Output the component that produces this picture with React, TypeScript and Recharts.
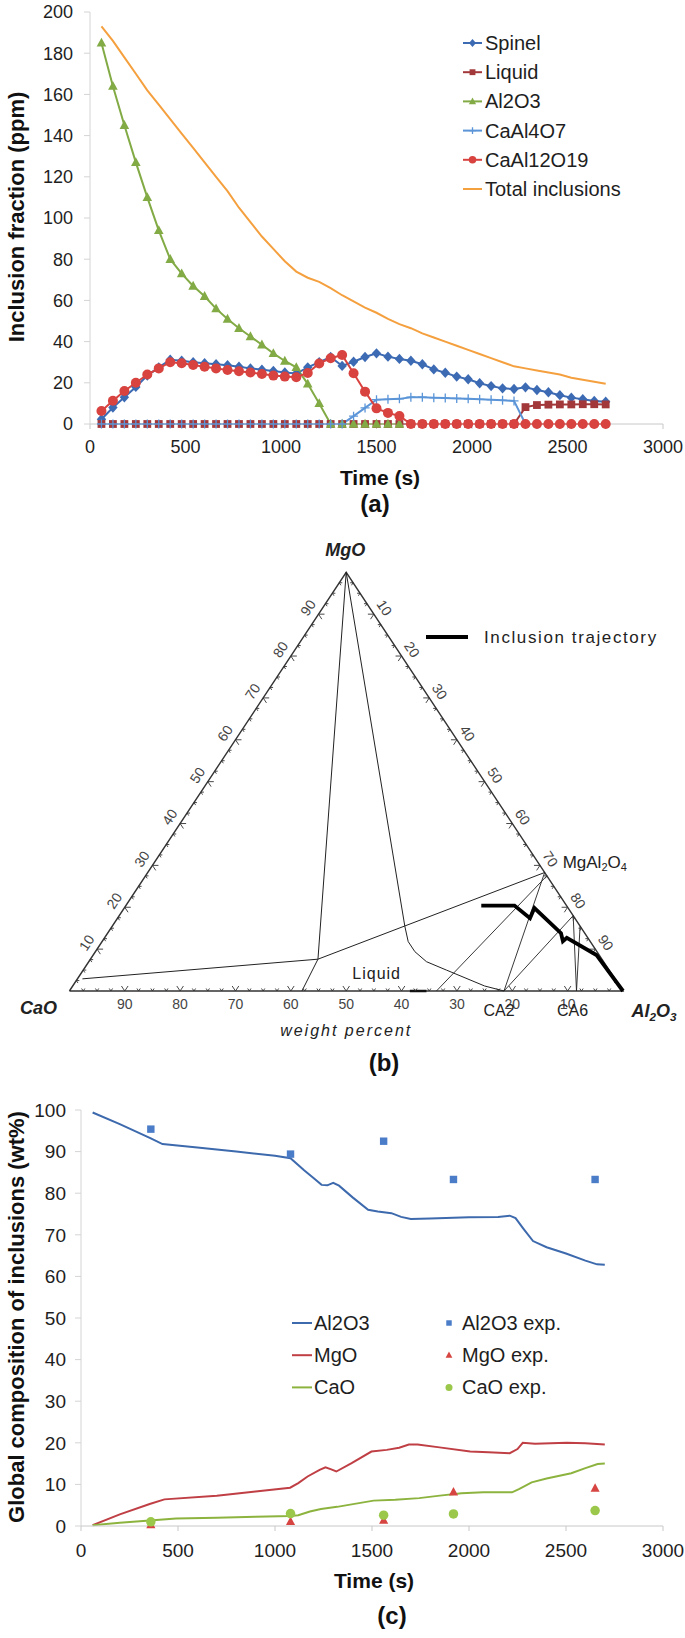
import React from 'react';
import { LineChart, Line, XAxis, YAxis, ScatterChart, Scatter, ComposedChart } from 'recharts';

const FONT = '"Liberation Sans", Arial, Helvetica, sans-serif';
const INK = '#1e1e1e';

// ---------- (a) inclusion fractions (ppm), one point per minute ----------
const timeA = [
  60, 120, 180, 240, 300, 360, 420, 480, 540, 600,
  660, 720, 780, 840, 900, 960, 1020, 1080, 1140, 1200,
  1260, 1320, 1380, 1440, 1500, 1560, 1620, 1680, 1740, 1800,
  1860, 1920, 1980, 2040, 2100, 2160, 2220, 2280, 2340, 2400,
  2460, 2520, 2580, 2640, 2700,
];
const spinelA = [
  2.3, 8, 13, 18, 23.5, 27.5, 31.2, 30.7, 30, 29.5,
  29, 28.5, 27.8, 27, 26.3, 25.7, 25, 24.5, 27.5, 30,
  32.5, 28.2, 30.2, 32.5, 34.3, 32.7, 31.6, 30.7, 29, 26.5,
  24.9, 23, 21.7, 19.8, 18.4, 17.3, 17, 17.8, 16.5, 15.4,
  14, 12.8, 12, 11.2, 10.8,
];
const liquidA = [
  0, 0, 0, 0, 0, 0, 0, 0, 0, 0,
  0, 0, 0, 0, 0, 0, 0, 0, 0, 0,
  0, 0, 0, 0, 0, 0, 0, 0, 0, 0,
  0, 0, 0, 0, 0, 0, 0, 8.2, 9.2, 9.4,
  9.5, 9.5, 9.6, 9.6, 9.5,
];
const al2o3A = [
  185, 164, 145, 127, 110, 94, 80, 73, 67, 62,
  56, 51, 46.5, 42.5, 38.5, 34.3, 30.6, 27.5, 19.5, 10,
  0, 0, 0, 0, 0, 0, 0, null, null, null,
  null, null, null, null, null, null, null, null, null, null,
  null, null, null, null, null,
];
const caAl4O7A = [
  0, 0, 0, 0, 0, 0, 0, 0, 0, 0,
  0, 0, 0, 0, 0, 0, 0, 0, 0, 0,
  0, 0, 3.8, 7.8, 11.8, 12, 12.2, 13, 13, 12.8,
  12.6, 12.4, 12.2, 12, 11.8, 11.5, 11.2, 0, 0, 0,
  0, 0, 0, 0, 0,
];
const caAl12O19A = [
  6.3, 11.3, 16, 20, 24, 27, 30, 29.5, 28.6, 27.8,
  27, 26.2, 25.6, 25, 24.3, 23.5, 23, 22.7, 24.8, 29.4,
  31.9, 33.5, 24.6, 15.7, 7.6, 5.4, 3.9, 0, 0, 0,
  0, 0, 0, 0, 0, 0, 0, 0, 0, 0,
  0, 0, 0, 0, 0,
];
const totalA = [
  193, 186, 178, 170, 162, 155, 148, 141, 134, 127,
  120, 113, 105, 98, 91, 85, 79, 74, 71, 69,
  66, 62.5, 59.5, 56.5, 54, 51, 48.5, 46.5, 44, 42,
  40, 38, 36, 34, 32, 30, 28, 27, 26, 25,
  24, 22.5, 21.5, 20.5, 19.5,
];
const ticksTime = [0, 500, 1000, 1500, 2000, 2500, 3000];
const ticksPpm = [0, 20, 40, 60, 80, 100, 120, 140, 160, 180, 200];

const seriesA = [
  { key: 'spinel', name: 'Spinel', color: '#3C6AB3', marker: 'diamond' },
  { key: 'liquid', name: 'Liquid', color: '#A3383B', marker: 'square' },
  { key: 'al2o3', name: 'Al2O3', color: '#82AA45', marker: 'triangle' },
  { key: 'ca2', name: 'CaAl4O7', color: '#5B95D8', marker: 'plus' },
  { key: 'ca6', name: 'CaAl12O19', color: '#D8423F', marker: 'circle' },
  { key: 'total', name: 'Total inclusions', color: '#F5A03F', marker: '' },
];

const tableA = timeA.map((t, i) => ({
  t,
  spinel: spinelA[i],
  liquid: liquidA[i],
  al2o3: al2o3A[i],
  ca2: caAl4O7A[i],
  ca6: caAl12O19A[i],
  total: totalA[i],
}));

// ---------- (b) CaO-MgO-Al2O3 diagram, points as [Al2O3 wt%, MgO wt%] ----------
const ternEdge = [[0, 0], [100, 0], [0, 100], [0, 0]];
const mgoBoundary = [[0, 100], [41.1, 7.6], [42, 0]];
const liquidLower = [[0.9, 2.9], [41.1, 7.6], [71.7, 28.3]];
const liquidus = [[0, 100], [52.9, 15.4], [55.3, 11.8], [57.7, 9.4], [61, 7], [65.6, 5], [74.4, 1.2], [78.5, 0]];
const tieLines = [
  [[72.5, 27.5], [66.3, 0]],
  [[71.7, 28.3], [78.5, 0]],
  [[82, 18], [78.5, 0]],
  [[82, 18], [91.6, 0]],
  [[84.5, 15.5], [91.6, 0]],
];
const baseMark = [[61.5, 0], [64.5, 0]];
const trajectory = [
  [64.2, 20.4], [70.2, 20.4], [74.5, 17.4], [74.1, 19.8], [81.9, 13.8],
  [83.2, 11.9], [83.5, 12.7], [90.9, 8.6], [100, 0],
];
const ternLabels = [10, 20, 30, 40, 50, 60, 70, 80, 90];
const ternNotes = [
  { al: 0, mg: 0, text: 'CaO', dx: -31, dy: 17, size: 18, bold: true, italic: true },
  { al: 100, mg: 0, text: 'Al2O3', chem: true, dx: 31, dy: 20, size: 18, bold: true, italic: true },
  { al: 0, mg: 100, text: 'MgO', dx: -1, dy: -22, size: 18, bold: true, italic: true },
  { al: 71.7, mg: 28.3, text: 'MgAl2O4', chem: true, dx: 18, dy: -11, size: 17, anchor: 'start' },
  { al: 78.5, mg: 0, text: 'CA2', dx: -5, dy: 19, size: 16 },
  { al: 91.6, mg: 0, text: 'CA6', dx: -4, dy: 19, size: 16 },
  { al: 55.5, mg: 0, text: 'Liquid', dx: 0, dy: -18, size: 16, ls: 1 },
  { al: 50, mg: 0, text: 'weight percent', dx: 0, dy: 39, size: 16, italic: true, ls: 2 },
];

// ---------- (c) global composition (wt%) ----------
const al2o3Time = [60, 200, 360, 420, 600, 800, 1000, 1080, 1150, 1200, 1240, 1270, 1300, 1330, 1400, 1480, 1530, 1600, 1650, 1700, 1800, 2000, 2150, 2210, 2240, 2280, 2330, 2400, 2500, 2600, 2660, 2700];
const al2o3Calc = [99.4, 96.6, 93.2, 91.8, 91, 90, 89, 88.4, 85.5, 83.6, 82, 81.9, 82.5, 81.8, 79, 76, 75.6, 75.2, 74.3, 73.8, 73.9, 74.2, 74.3, 74.6, 74, 71.5, 68.5, 67, 65.5, 63.8, 62.9, 62.8];
const mgoTime = [60, 200, 354, 430, 700, 900, 1078, 1120, 1168, 1230, 1260, 1290, 1316, 1395, 1497, 1576, 1640, 1690, 1735, 1848, 2006, 2100, 2210, 2250, 2277, 2340, 2504, 2600, 2700];
const mgoCalc = [0.2, 2.8, 5.3, 6.4, 7.3, 8.3, 9.2, 10.3, 11.9, 13.5, 14.1, 13.6, 13.1, 15.1, 17.9, 18.3, 18.8, 19.6, 19.6, 18.9, 17.9, 17.7, 17.5, 18.5, 20, 19.8, 20, 19.9, 19.6];
const caoTime = [60, 200, 354, 490, 700, 900, 1078, 1120, 1180, 1237, 1320, 1395, 1508, 1620, 1743, 1850, 1961, 2074, 2222, 2260, 2323, 2400, 2527, 2600, 2663, 2700];
const caoCalc = [0.2, 0.8, 1.3, 1.8, 2, 2.2, 2.4, 2.6, 3.5, 4.1, 4.6, 5.2, 6.1, 6.3, 6.7, 7.3, 7.9, 8.1, 8.1, 8.9, 10.5, 11.4, 12.7, 13.9, 14.9, 15];
const expTime = [360, 1080, 1560, 1920, 2650];
const al2o3Exp = [95.4, 89.4, 92.5, 83.3, 83.3];
const mgoExp = [0.3, 1.1, 1.4, 8.2, 9.1];
const caoExp = [1.0, 3.0, 2.6, 2.9, 3.7];
const ticksWt = [0, 10, 20, 30, 40, 50, 60, 70, 80, 90, 100];

const C_AL = '#3D69AD';
const C_MG = '#BF3F45';
const C_CA = '#8DB33F';
const C_AL_EXP = '#4A7CC8';
const C_MG_EXP = '#D64541';
const C_CA_EXP = '#9BC84A';

const rows = (ts: number[], vs: number[]) => ts.map((t, i) => ({ t, v: vs[i] }));
const toXY = (pts: number[][]) => pts.map(([al, mg]) => ({ x: al + mg / 2, y: mg }));

// ternary plot box on the page
const TERN = { left: 69.4, top: 572.3, width: 553.6, height: 418.7 };
const TERN_CHART_TOP = 530;
const TERN_CHART_H = 540;
const hw = TERN.width / 2;
const edgeLen = Math.hypot(hw, TERN.height);
const ux = hw / edgeLen;
const uy = TERN.height / edgeLen;

function Marker({ kind, x, y, color, s = 1 }: { kind: string; x: number; y: number; color: string; s?: number }) {
  if (kind === 'diamond')
    return <path d={`M${x},${y - 5.2 * s}L${x + 4.7 * s},${y}L${x},${y + 5.2 * s}L${x - 4.7 * s},${y}Z`} fill={color} />;
  if (kind === 'square') return <rect x={x - 3.9 * s} y={y - 3.9 * s} width={7.8 * s} height={7.8 * s} fill={color} />;
  if (kind === 'triangle')
    return <path d={`M${x},${y - 5.2 * s}L${x + 4.8 * s},${y + 3.7 * s}L${x - 4.8 * s},${y + 3.7 * s}Z`} fill={color} />;
  if (kind === 'plus')
    return <path d={`M${x - 4.5 * s},${y}H${x + 4.5 * s}M${x},${y - 4.5 * s}V${y + 4.5 * s}`} stroke={color} strokeWidth={1.3} />;
  if (kind === 'circle') return <circle cx={x} cy={y} r={5 * s} fill={color} />;
  return null;
}

const dotFor = (kind: string, color: string) => (p: any) => {
  const { cx, cy, index, value } = p;
  if (value == null || cx == null || cy == null || Number.isNaN(cy)) return <g key={`e${index}`} />;
  return (
    <g key={`m${index}`}>
      <Marker kind={kind} x={cx} y={cy} color={color} />
    </g>
  );
};

const noShape = () => <g />;

function chem(text: string, size: number) {
  const parts = text.match(/[A-Za-z]+|\d+/g) || [];
  const out: React.ReactNode[] = [];
  let low = false;
  parts.forEach((p, i) => {
    if (/\d/.test(p)) {
      out.push(<tspan key={i} dy={size * 0.3} fontSize={size * 0.65}>{p}</tspan>);
      low = true;
    } else {
      out.push(<tspan key={i} dy={low ? -size * 0.3 : 0}>{p}</tspan>);
      low = false;
    }
  });
  return out;
}

const TernTick = (p: any) => {
  const { cx, cy, payload } = p;
  const L = payload.major ? 6 : 3;
  let a = [0, 0];
  let b = [0, 0];
  if (payload.edge === 'base') { a = [-ux, -uy]; b = [ux, -uy]; }
  if (payload.edge === 'left') { a = [1, 0]; b = [ux, uy]; }
  if (payload.edge === 'right') { a = [-1, 0]; b = [-ux, uy]; }
  return (
    <path
      d={`M${cx + a[0] * L},${cy + a[1] * L}L${cx},${cy}L${cx + b[0] * L},${cy + b[1] * L}`}
      stroke="#333"
      strokeWidth={0.9}
      fill="none"
    />
  );
};

const LABEL_OFF: Record<string, { dx: number; dy: number; rot: number }> = {
  base: { dx: 0, dy: 12.5, rot: 0 },
  left: { dx: -10.5, dy: -6.5, rot: -56.5 },
  right: { dx: 10.5, dy: -6.5, rot: 56.5 },
};

const TernLabel = (p: any) => {
  const { cx, cy, payload } = p;
  const o = LABEL_OFF[payload.edge];
  const x = cx + o.dx;
  const y = cy + o.dy;
  return (
    <text x={x} y={y} transform={`rotate(${o.rot} ${x} ${y})`} textAnchor="middle" dominantBaseline="central"
      fontSize={14} fill="#444" fontFamily={FONT}>
      {payload.label}
    </text>
  );
};

const NoteText = (p: any) => {
  const { cx, cy, payload: n } = p;
  return (
    <text x={cx + n.dx} y={cy + n.dy} textAnchor={n.anchor || 'middle'} dominantBaseline="central"
      fontSize={n.size} fontWeight={n.bold ? 700 : 400} fontStyle={n.italic ? 'italic' : 'normal'}
      letterSpacing={n.ls || 0} fill="#222" fontFamily={FONT}>
      {n.chem ? chem(n.text, n.size) : n.text}
    </text>
  );
};

const expShape = (kind: string, color: string) => (p: any) => (
  <Marker kind={kind} x={p.cx} y={p.cy} color={color} s={0.95} />
);

export default function App() {
  // tick marks along the three edges (every 2.5 %, bigger every 10 %)
  const ticks: any[] = [];
  for (let k = 1; k < 40; k++) {
    const v = k * 2.5;
    const major = k % 4 === 0;
    ticks.push({ ...toXY([[100 - v, 0]])[0], edge: 'base', major });
    ticks.push({ ...toXY([[0, v]])[0], edge: 'left', major });
    ticks.push({ ...toXY([[v, 100 - v]])[0], edge: 'right', major });
  }
  const labels: any[] = [];
  ternLabels.forEach((v) => {
    labels.push({ ...toXY([[100 - v, 0]])[0], edge: 'base', label: v });
    labels.push({ ...toXY([[0, v]])[0], edge: 'left', label: v });
    labels.push({ ...toXY([[v, 100 - v]])[0], edge: 'right', label: v });
  });
  const notes = ternNotes.map((n) => ({ ...n, ...toXY([[n.al, n.mg]])[0] }));

  const axisTickA = { fill: INK, fontSize: 18, fontFamily: FONT };
  const axisTickC = { fill: INK, fontSize: 19, fontFamily: FONT };
  const legendA = seriesA;
  const legendC = [
    { name: 'Al2O3', color: C_AL, exp: 'Al2O3 exp.', ec: C_AL_EXP, kind: 'square' },
    { name: 'MgO', color: C_MG, exp: 'MgO exp.', ec: C_MG_EXP, kind: 'triangle' },
    { name: 'CaO', color: C_CA, exp: 'CaO exp.', ec: C_CA_EXP, kind: 'circle' },
  ];

  return (
    <div style={{ position: 'absolute', left: 0, top: 0, width: 685, height: 1638, background: '#fff', fontFamily: FONT }}>
      {/* (a) */}
      <div style={{ position: 'absolute', left: 0, top: 0 }}>
        <LineChart width={685} height={466} data={tableA} margin={{ top: 12, right: 22, bottom: 12, left: 0 }}>
          <XAxis dataKey="t" type="number" domain={[0, 3000]} ticks={ticksTime} interval={0} height={30}
            stroke="#c8c8c8" tick={axisTickA} tickSize={5} tickMargin={11} />
          <YAxis type="number" domain={[0, 200]} ticks={ticksPpm} interval={0} width={90}
            stroke="#d4d4d4" tick={axisTickA} tickSize={6} tickMargin={11} />
          {seriesA.map((s) => (
            <Line key={s.key} dataKey={s.key} name={s.name} stroke={s.color} strokeWidth={2}
              dot={s.marker ? dotFor(s.marker, s.color) : false} activeDot={false} isAnimationActive={false} />
          ))}
        </LineChart>
      </div>

      {/* (b) */}
      <div style={{ position: 'absolute', left: 0, top: TERN_CHART_TOP }}>
        <ScatterChart width={685} height={TERN_CHART_H}
          margin={{ top: TERN.top - TERN_CHART_TOP, left: TERN.left, right: 685 - TERN.left - TERN.width,
            bottom: TERN_CHART_TOP + TERN_CHART_H - TERN.top - TERN.height }}>
          <XAxis dataKey="x" type="number" domain={[0, 100]} hide />
          <YAxis dataKey="y" type="number" domain={[0, 100]} hide />
          <Scatter data={toXY(ternEdge)} fill="#333" line={{ stroke: '#333', strokeWidth: 1.4 }} shape={noShape} isAnimationActive={false} />
          <Scatter data={toXY(mgoBoundary)} fill="#222" line={{ stroke: '#222', strokeWidth: 1 }} shape={noShape} isAnimationActive={false} />
          <Scatter data={toXY(liquidLower)} fill="#222" line={{ stroke: '#222', strokeWidth: 1 }} shape={noShape} isAnimationActive={false} />
          <Scatter data={toXY(liquidus)} fill="#222" line={{ stroke: '#222', strokeWidth: 1 }} shape={noShape} isAnimationActive={false} />
          {tieLines.map((l, i) => (
            <Scatter key={i} data={toXY(l)} fill="#222" line={{ stroke: '#222', strokeWidth: 0.9 }} shape={noShape} isAnimationActive={false} />
          ))}
          <Scatter data={toXY(baseMark)} fill="#111" line={{ stroke: '#111', strokeWidth: 2.5 }} shape={noShape} isAnimationActive={false} />
          <Scatter data={ticks} fill="#333" shape={TernTick} isAnimationActive={false} />
          <Scatter data={labels} fill="#444" shape={TernLabel} isAnimationActive={false} />
          <Scatter data={toXY(trajectory)} fill="#000" line={{ stroke: '#000', strokeWidth: 3.8 }} shape={noShape} isAnimationActive={false} />
          <Scatter data={notes} fill="#222" shape={NoteText} isAnimationActive={false} />
        </ScatterChart>
      </div>

      {/* (c) */}
      <div style={{ position: 'absolute', left: 0, top: 1090 }}>
        <ComposedChart width={685} height={490} margin={{ top: 20, right: 22, bottom: 24, left: 0 }}>
          <XAxis dataKey="t" type="number" domain={[0, 3000]} ticks={ticksTime} interval={0} height={30}
            stroke="#c8c8c8" tick={axisTickC} tickSize={5} tickMargin={13} />
          <YAxis dataKey="v" type="number" domain={[0, 100]} ticks={ticksWt} interval={0} width={81}
            stroke="#d4d4d4" tick={axisTickC} tickSize={6} tickMargin={9} />
          <Line data={rows(al2o3Time, al2o3Calc)} dataKey="v" stroke={C_AL} strokeWidth={2} dot={false} activeDot={false} isAnimationActive={false} />
          <Line data={rows(mgoTime, mgoCalc)} dataKey="v" stroke={C_MG} strokeWidth={2} dot={false} activeDot={false} isAnimationActive={false} />
          <Line data={rows(caoTime, caoCalc)} dataKey="v" stroke={C_CA} strokeWidth={2} dot={false} activeDot={false} isAnimationActive={false} />
          <Scatter data={rows(expTime, al2o3Exp)} dataKey="v" fill={C_AL_EXP} shape={expShape('square', C_AL_EXP)} isAnimationActive={false} />
          <Scatter data={rows(expTime, mgoExp)} dataKey="v" fill={C_MG_EXP} shape={expShape('triangle', C_MG_EXP)} isAnimationActive={false} />
          <Scatter data={rows(expTime, caoExp)} dataKey="v" fill={C_CA_EXP} shape={expShape('circle', C_CA_EXP)} isAnimationActive={false} />
        </ComposedChart>
      </div>

      {/* titles and legends */}
      <svg width={685} height={1638} style={{ position: 'absolute', left: 0, top: 0, pointerEvents: 'none' }} fontFamily={FONT}>
        {/* (a) */}
        <text x={16} y={217} transform="rotate(-90 16 217)" textAnchor="middle" dominantBaseline="central"
          fontSize={22} fontWeight={700} fill="#111">Inclusion fraction (ppm)</text>
        <text x={380} y={477} textAnchor="middle" dominantBaseline="central" fontSize={21} fontWeight={700} fill="#111">Time (s)</text>
        <text x={375} y={503} textAnchor="middle" dominantBaseline="central" fontSize={24} fontWeight={700} fill="#111">(a)</text>
        {legendA.map((s, i) => {
          const y = 43 + i * 29.2;
          return (
            <g key={s.key}>
              <line x1={463} x2={482} y1={y} y2={y} stroke={s.color} strokeWidth={2} />
              {s.marker && <Marker kind={s.marker} x={472.5} y={y} color={s.color} s={0.75} />}
              <text x={485} y={y} dominantBaseline="central" fontSize={20} fill={INK}>{s.name}</text>
            </g>
          );
        })}

        {/* (b) */}
        <line x1={426} x2={468} y1={637} y2={637} stroke="#000" strokeWidth={4} />
        <text x={484} y={637} dominantBaseline="central" fontSize={17} letterSpacing={1.6} fill="#222">Inclusion trajectory</text>
        <text x={384} y={1062} textAnchor="middle" dominantBaseline="central" fontSize={24} fontWeight={700} fill="#111">(b)</text>

        {/* (c) */}
        <text x={16} y={1317} transform="rotate(-90 16 1317)" textAnchor="middle" dominantBaseline="central"
          fontSize={22} fontWeight={700} fill="#111">Global composition of inclusions (wt%)</text>
        <text x={374} y={1580} textAnchor="middle" dominantBaseline="central" fontSize={21} fontWeight={700} fill="#111">Time (s)</text>
        <text x={392} y={1615} textAnchor="middle" dominantBaseline="central" fontSize={24} fontWeight={700} fill="#111">(c)</text>
        {legendC.map((s, i) => {
          const y = 1323 + i * 32.2;
          return (
            <g key={s.name}>
              <line x1={292} x2={312} y1={y} y2={y} stroke={s.color} strokeWidth={2} />
              <text x={314} y={y} dominantBaseline="central" fontSize={20} fill={INK}>{s.name}</text>
              <Marker kind={s.kind} x={449} y={y} color={s.ec} s={0.7} />
              <text x={462} y={y} dominantBaseline="central" fontSize={20} fill={INK}>{s.exp}</text>
            </g>
          );
        })}
      </svg>
    </div>
  );
}
